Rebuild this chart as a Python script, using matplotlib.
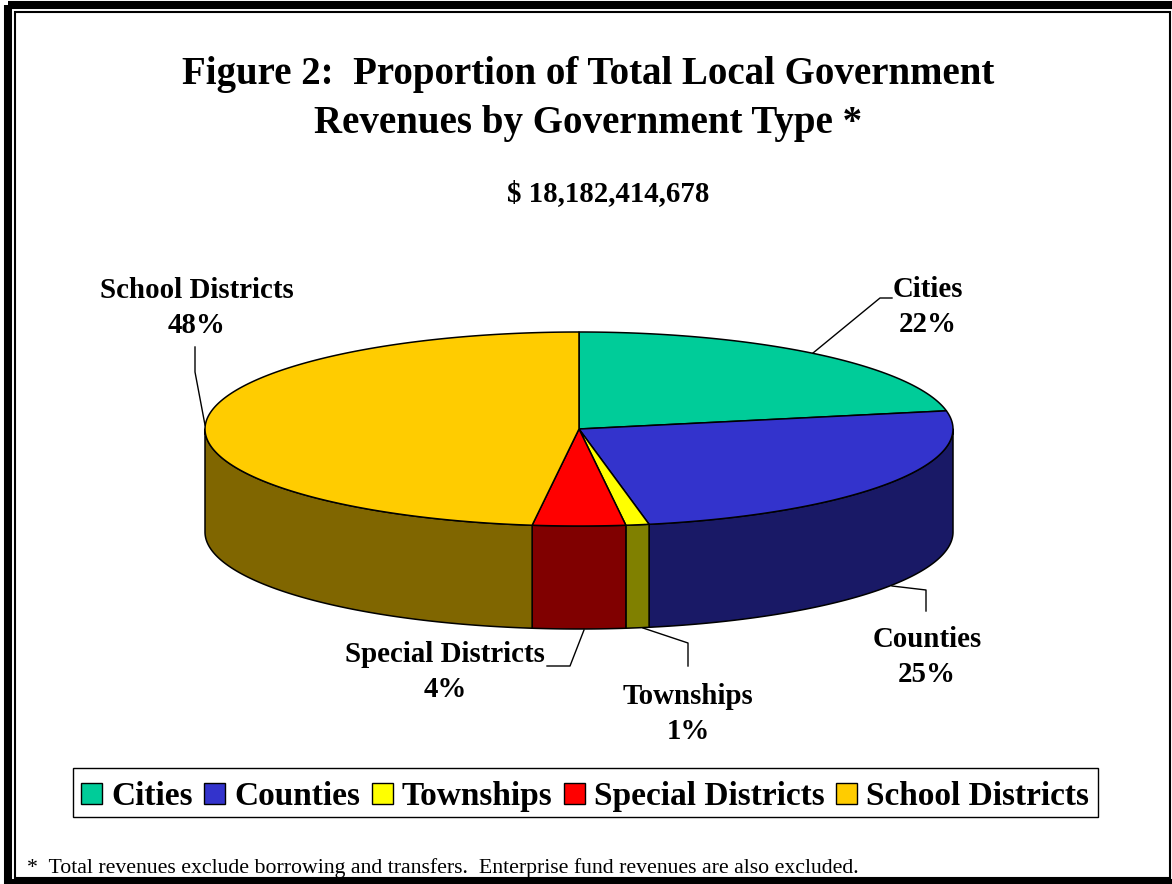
import matplotlib
matplotlib.use('Agg')
import matplotlib.pyplot as plt
from matplotlib.patches import Patch, Polygon, Rectangle
import numpy as np

plt.rcParams['font.family'] = ['Liberation Serif', 'DejaVu Serif']
plt.rcParams['font.weight'] = 'bold'

categories = ['Cities', 'Counties', 'Townships', 'Special Districts', 'School Districts']
shares = [22, 25, 1, 4, 48]
top_colors = ['#00CC99', '#3333CC', '#FFFF00', '#FF0000', '#FFCC00']
side_colors = ['#006650', '#191966', '#808000', '#800000', '#806600']

title = 'Figure 2:  Proportion of Total Local Government\nRevenues by Government Type *'
total = '$ 18,182,414,678'
note = '*  Total revenues exclude borrowing and transfers.  Enterprise fund revenues are also excluded.'

# pie geometry, in pixels
cx, cy = 579, 429
rx, ry = 374, 97
depth = 103


def arc(t0, t1, drop=0):
    # angles run clockwise from the top of the ellipse
    t = np.radians(np.linspace(t0, t1, max(int(abs(t1 - t0) * 2), 2)))
    return np.column_stack([cx + rx * np.sin(t), cy - ry * np.cos(t) + drop])


fig = plt.figure(figsize=(11.72, 8.84), dpi=100)
ax = fig.add_axes([0, 0, 1, 1])
ax.set_xlim(0, 1172)
ax.set_ylim(884, 0)
ax.axis('off')

# double frame
ax.add_patch(Rectangle((8, 5), 1170, 877.5, fc='none', ec='black', lw=5.8))
ax.add_patch(Rectangle((15, 12), 1154.5, 866, fc='none', ec='black', lw=1.5))

edges = np.cumsum([0] + shares) / sum(shares) * 360
for i in range(len(shares)):
    a, b = edges[i], edges[i + 1]
    # only the front half of the rim is visible
    a2, b2 = max(a, 90), min(b, 270)
    if a2 < b2:
        rim = np.vstack([arc(a2, b2), arc(b2, a2, depth)])
        ax.add_patch(Polygon(rim, fc=side_colors[i], ec='black', lw=1.1, joinstyle='round'))
for i in range(len(shares)):
    wedge = np.vstack([[cx, cy], arc(edges[i], edges[i + 1])])
    ax.add_patch(Polygon(wedge, fc=top_colors[i], ec='black', lw=1.1, joinstyle='round'))

# leader lines
leaders = [
    ([813, 880, 892], [353, 298, 298]),
    ([892, 926, 926], [586, 590, 611]),
    ([643, 688, 688], [628, 643, 666]),
    ([584, 570, 547], [630, 666, 666]),
    ([205, 195, 195], [425, 372, 347]),
]
for lx, ly in leaders:
    ax.plot(lx, ly, color='black', lw=1.0)

label_pos = [(928, 307), (927, 657), (688, 714), (445, 672), (197, 308)]
for name, share, (x, y) in zip(categories, shares, label_pos):
    ax.text(x, y, f'{name}\n{share}%', ha='center', va='center', fontsize=20.8, linespacing=1.39)

ax.text(588, 99, title, ha='center', va='center', fontsize=28, linespacing=1.41)
ax.text(608, 194, total, ha='center', va='center', fontsize=20.8)
ax.text(27, 868, note, ha='left', va='center', fontsize=15.7, fontweight='normal')

# legend box is drawn on its own so the entries can sit slightly low inside it
ax.add_patch(Rectangle((73, 768), 1025, 49, fc='white', ec='black', lw=1.0))
handles = [Patch(fc=c, ec='black', lw=1) for c in top_colors]
ax.legend(handles, categories, ncol=5, loc='center', bbox_to_anchor=(585 / 1172, 1 - 796.5 / 884),
          fontsize=24, frameon=False,
          handlelength=0.63, handleheight=0.6, handletextpad=0.27, columnspacing=0.34,
          borderpad=0.2, borderaxespad=0)

fig.savefig('out.png', dpi=100)
